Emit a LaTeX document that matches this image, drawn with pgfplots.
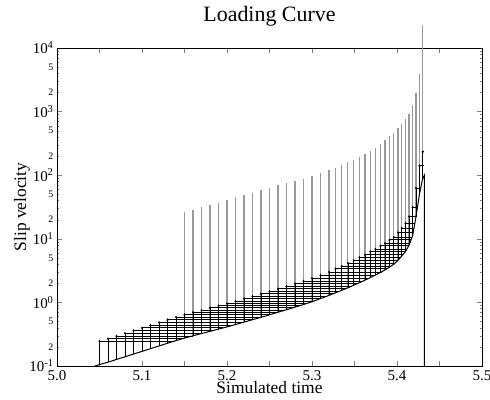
\documentclass[border=0pt]{standalone}
\usepackage{pgfplots}
\pgfplotsset{compat=1.18}
\usepackage{pgfplotstable}
\usepackage{fontspec}
\setmainfont{Liberation Serif}

% time steps: t, curve value c, step top h, end of step line e, gray top g
\pgfplotstableread{
t      c       h       e       g
5.05   0.1054  0.2472  5.1383  nan
5.06   0.1148  0.2692  5.1479  nan
5.07   0.1268  0.2972  5.1595  nan
5.08   0.1396  0.3273  5.1714  nan
5.09   0.1542  0.3614  5.1837  nan
5.10   0.1698  0.3981  5.1957  nan
5.11   0.1875  0.4395  5.2076  nan
5.12   0.2065  0.4842  5.2187  nan
5.13   0.2280  0.5346  5.2300  nan
5.14   0.2512  0.5888  5.2413  nan
5.15   0.2742  0.6427  5.2508  26.12
5.16   0.2985  0.6998  5.2600  28.38
5.17   0.3236  0.7586  5.2688  31.33
5.18   0.3508  0.8222  5.2775  34.04
5.19   0.3802  0.8913  5.2860  36.98
5.20   0.4121  0.9661  5.2942  40.74
5.21   0.4487  1.052   5.3024  44.98
5.22   0.4898  1.148   5.3100  48.87
5.23   0.5346  1.253   5.3176  53.09
5.24   0.5821  1.365   5.3248  58.48
5.25   0.6383  1.496   5.3323  63.10
5.26   0.6998  1.641   5.3395  69.18
5.27   0.7674  1.799   5.3466  74.13
5.28   0.8414  1.972   5.3534  81.28
5.29   0.9268  2.173   5.3603  88.10
5.30   1.023   2.399   5.3671  95.50
5.31   1.148   2.692   5.3746  107.2
5.32   1.288   3.020   5.3818  120.2
5.3276 1.413   3.388   5.3883  131.8
5.3351 1.549   3.715   5.3929  144.5
5.3422 1.698   4.169   5.3978  158.5
5.3492 1.862   4.571   5.4011  173.8
5.3559 2.042   5.129   5.4043  190.5
5.3624 2.239   5.623   5.4069  213.8
5.3686 2.455   6.310   5.4100  239.9
5.3746 2.692   6.918   5.4117  269.2
5.3804 2.951   7.762   5.4138  309.0
5.3859 3.236   8.511   5.4150  354.8
5.3912 3.589   9.661   5.4166  407.4
5.3962 3.981   10.72   5.4178  467.7
5.4011 4.571   12.59   5.4191  549.5
5.4056 5.370   14.79   5.4200  631.0
5.4100 6.310   17.78   5.4211  758.6
5.4142 7.943   22.39   5.4224  933.3
5.4184 11.22   31.62   5.4241  1259
5.4224 22.39   63.10   5.4279  1950
5.4264 50.12   141.3   5.4320  3890
5.4302 89.13   234.4   5.4320  22909
}\steps

\begin{document}
\begin{tikzpicture}
\useasboundingbox (-57bp,-34bp) rectangle (433bp,366bp);
\begin{axis}[
    at={(0,0)}, anchor=south west,
    scale only axis,
    width=425bp, height=318bp,
    ymode=log,
    xmin=5, xmax=5.5, ymin=0.1, ymax=10000,
    clip=false,
    xtick={5,5.05,5.1,5.15,5.2,5.25,5.3,5.35,5.4,5.45,5.5},
    xticklabels={5.0,,5.1,,5.2,,5.3,,5.4,,5.5},
    ytick={0.1,1,10,100,1000,10000},
    yticklabels={10\textsuperscript{-1},10\textsuperscript{0},10\textsuperscript{1},10\textsuperscript{2},10\textsuperscript{3},10\textsuperscript{4}},
    extra y ticks={0.2,0.5,2,5,20,50,200,500,2000,5000},
    extra y tick labels={2,5,2,5,2,5,2,5,2,5},
    extra y tick style={major tick length=0pt, yticklabel style={font=\fontsize{10}{10}\selectfont}},
    tick label style={font=\fontsize{15}{15}\selectfont},
    xticklabel style={yshift=-1bp},
    major tick length=5bp, minor tick length=2.5bp,
    axis line style={line width=0.8bp},
    title={Loading Curve},
    title style={font=\fontsize{22}{22}\selectfont, at={(0.5,1)}, anchor=base, yshift=21bp},
    xlabel={Simulated time},
    xlabel style={font=\fontsize{17.5}{17.5}\selectfont, at={(0.5,0)}, anchor=base, yshift=-27.5bp},
    ylabel={Slip velocity},
    ylabel style={font=\fontsize{17.5}{17.5}\selectfont, at={(-0.0729,0.5)}, anchor=base},
]
% gray lines
\addplot[draw=none, mark=none,
    error bars/.cd, y dir=minus, y explicit, error mark=none,
    error bar style={draw=black!40, line width=1.2bp}]
    table[x expr=\thisrow{t}, y=g, y error minus expr=\thisrow{g}-\thisrow{c}] {\steps};
% step lines
\addplot[draw=none, mark=none,
    error bars/.cd, x dir=plus, x explicit, error mark=none,
    error bar style={draw=black, line width=0.7bp}]
    table[x=t, y=h, x error plus expr=\thisrow{e}-\thisrow{t}] {\steps};
% arrows
\addplot[black, only marks, mark=triangle*, mark size=1.0pt,
    error bars/.cd, y dir=minus, y explicit, error mark=none,
    error bar style={draw=black, line width=0.7bp}]
    table[x=t, y=h, y error minus expr=\thisrow{h}-\thisrow{c}] {\steps};
% loading curve
\addplot[black, line width=1bp] coordinates {
    (5.0447,0.1) (5.05,0.1054) (5.06,0.1148) (5.07,0.1268) (5.08,0.1396)
    (5.09,0.1542) (5.10,0.1698) (5.11,0.1875) (5.12,0.2065) (5.13,0.2280)
    (5.14,0.2512) (5.15,0.2742) (5.16,0.2985) (5.17,0.3236) (5.18,0.3508)
    (5.19,0.3802) (5.20,0.4121) (5.21,0.4487) (5.22,0.4898) (5.23,0.5346)
    (5.24,0.5821) (5.25,0.6383) (5.26,0.6998) (5.27,0.7674) (5.28,0.8414)
    (5.29,0.9268) (5.30,1.023) (5.31,1.148) (5.32,1.288) (5.3276,1.413)
    (5.3351,1.549) (5.3422,1.698) (5.3492,1.862) (5.3559,2.042) (5.3624,2.239)
    (5.3686,2.455) (5.3746,2.692) (5.3804,2.951) (5.3859,3.236) (5.3912,3.589)
    (5.3962,3.981) (5.4011,4.571) (5.4056,5.370) (5.4100,6.310) (5.4142,7.943)
    (5.4184,11.22) (5.4224,22.39) (5.4264,50.12) (5.4302,89.13) (5.4322,100)
    (5.4322,0.1)
};
\end{axis}
\end{tikzpicture}
\end{document}
